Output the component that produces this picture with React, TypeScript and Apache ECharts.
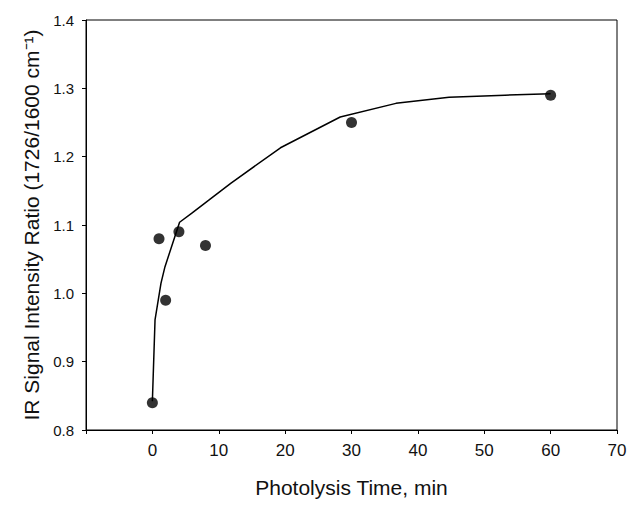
import React, { useEffect, useRef } from "react";
import * as echarts from "echarts";

const timeMin = [0, 1, 2, 4, 8, 30, 60];
const ratio = [0.84, 1.08, 0.99, 1.09, 1.07, 1.25, 1.29];

const fitX = [0, 0.4, 1.3, 1.9, 4.1, 5.9, 8.6, 11.8, 19.3, 28.3, 36.7, 44.7, 53.1, 60];
const fitY = [0.842, 0.961, 1.015, 1.039, 1.104, 1.117, 1.137, 1.161, 1.213, 1.258, 1.278, 1.287, 1.29, 1.292];

const xTicks = { min: -10, max: 70, interval: 10 };
const yTicks = { min: 0.8, max: 1.4, interval: 0.1 };

export default function App() {
  const ref = useRef<HTMLDivElement>(null);
  useEffect(() => {
    if (!ref.current) return;
    const chart = echarts.init(ref.current, undefined, { renderer: "svg" });
    const font = "Liberation Sans, Arial, sans-serif";
    chart.setOption({
      animation: false,
      backgroundColor: "#fff",
      grid: {
        left: 86,
        top: 20,
        right: 17,
        bottom: 75,
        show: true,
        borderColor: "#000",
        borderWidth: 1,
        backgroundColor: "transparent",
      },
      xAxis: {
        type: "value",
        min: xTicks.min,
        max: xTicks.max,
        interval: xTicks.interval,
        name: "Photolysis Time, min",
        nameLocation: "middle",
        nameGap: 47,
        nameTextStyle: { fontFamily: font, fontSize: 21, color: "#111" },
        axisLine: { show: true, onZero: false, lineStyle: { color: "#000", width: 1 } },
        axisTick: { show: true, length: 4, lineStyle: { color: "#000" } },
        axisLabel: {
          fontFamily: font,
          fontSize: 17,
          color: "#111",
          margin: 12,
          formatter: (v: number) => (v < 0 ? "" : String(v)),
        },
        splitLine: { show: false },
      },
      yAxis: {
        type: "value",
        min: yTicks.min,
        max: yTicks.max,
        interval: yTicks.interval,
        name: "IR Signal Intensity Ratio (1726/1600 cm\u207B\u00B9)",
        nameLocation: "middle",
        nameGap: 38,
        nameTextStyle: { fontFamily: font, fontSize: 21, color: "#111" },
        axisLine: { show: true, onZero: false, lineStyle: { color: "#000", width: 1 } },
        axisTick: { show: true, length: 4, lineStyle: { color: "#000" } },
        axisLabel: {
          fontFamily: font,
          fontSize: 15,
          color: "#111",
          margin: 12,
          formatter: (v: number) => v.toFixed(1),
        },
        splitLine: { show: false },
      },
      series: [
        {
          type: "line",
          data: fitX.map((x, i) => [x, fitY[i]]),
          showSymbol: false,
          symbol: "none",
          lineStyle: { color: "#000", width: 1.5 },
          silent: true,
          z: 2,
        },
        {
          type: "scatter",
          data: timeMin.map((x, i) => [x, ratio[i]]),
          symbol: "circle",
          symbolSize: 11,
          itemStyle: { color: "#000" },
          z: 3,
        },
      ],
    });
    return () => chart.dispose();
  }, []);
  return <div ref={ref} style={{ width: 634, height: 505, position: "absolute", left: 0, top: 0 }} />;
}
